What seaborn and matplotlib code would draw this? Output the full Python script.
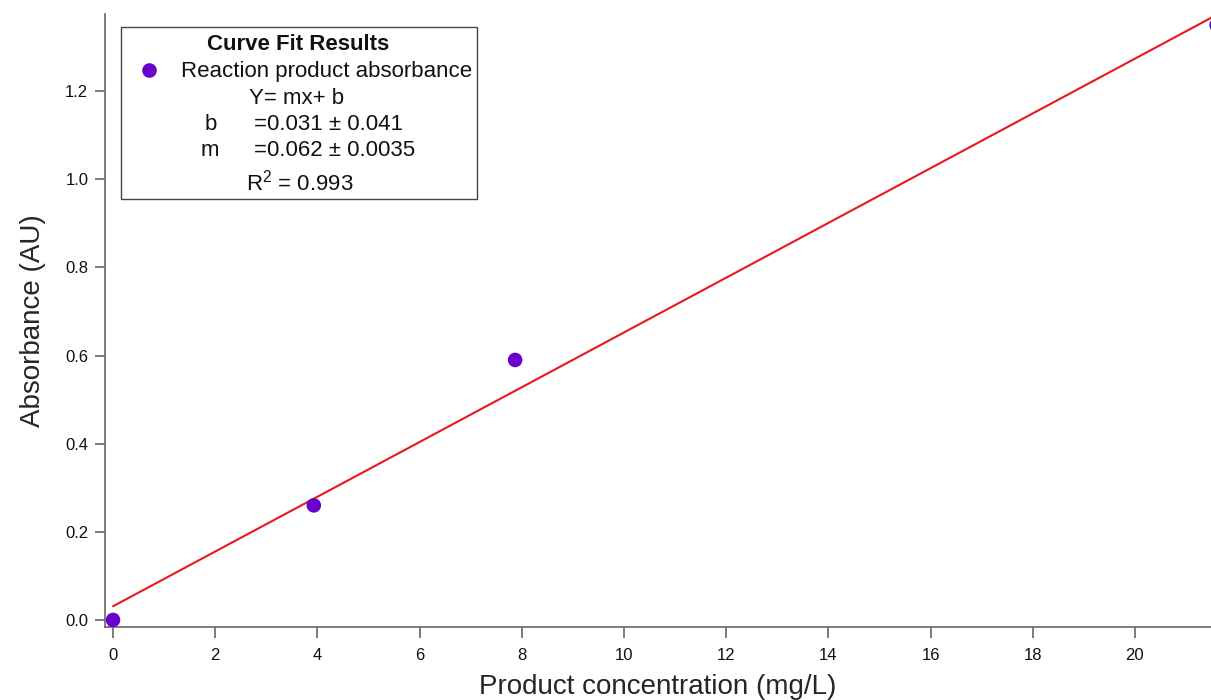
import matplotlib
matplotlib.use("Agg")
import matplotlib.pyplot as plt
import seaborn as sns
import pandas as pd
from matplotlib.patches import Rectangle

sns.set_theme(style="white")
plt.rcParams['font.family'] = ['Liberation Sans', 'DejaVu Sans']

# data
conc = [0.0, 3.93, 7.87, 21.6]
absorb = [0.0, 0.26, 0.59, 1.35]
fit_x = [0.0, 21.6]
fit_y = [0.031, 1.373]
x_ticks = [0, 2, 4, 6, 8, 10, 12, 14, 16, 18, 20]
y_ticks = [0.0, 0.2, 0.4, 0.6, 0.8, 1.0, 1.2]

W, H = 1211, 700
fig = plt.figure(figsize=(W / 100, H / 100), dpi=100)
L, R, T, B = 105, 1211, 14, 627
ax = fig.add_axes([L / W, 1 - B / H, (R - L) / W, (B - T) / H])

purple = "#6A00CC"
df = pd.DataFrame({"x": conc, "y": absorb})
fit = pd.DataFrame({"x": fit_x, "y": fit_y})
sns.lineplot(data=fit, x="x", y="y", ax=ax, color="#E8181B", linewidth=1.5)
sns.scatterplot(data=df, x="x", y="y", ax=ax, color=purple, s=110, edgecolor="none", zorder=3)

ax.set_xlim(-0.157, 21.49)
ax.set_ylim(-0.016, 1.375)
ax.set_xticks(x_ticks)
ax.set_yticks(y_ticks)
ax.set_yticklabels([f"{v:.1f}" for v in y_ticks])
ax.set_xlabel("Product concentration (mg/L)", fontsize=20, labelpad=8)
ax.set_ylabel("Absorbance (AU)", fontsize=20, labelpad=14)
for s in ["top", "right"]:
    ax.spines[s].set_visible(False)
for s in ["left", "bottom"]:
    ax.spines[s].set_color("#666666")
    ax.spines[s].set_linewidth(1.2)
ax.tick_params(axis="both", direction="out", length=7, width=1.2, color="#666666",
               labelsize=12, labelcolor="#111111", bottom=True, left=True)
ax.tick_params(axis="x", length=8, pad=7)
ax.tick_params(axis="y", pad=5)

# legend/annotation box
def fx(px):
    return px / W
def fy(py):
    return 1 - py / H

fig.patches.append(Rectangle((fx(121), fy(199)), fx(477) - fx(121), fy(27) - fy(199),
                             transform=fig.transFigure, fill=True, facecolor="white",
                             edgecolor="#444444", linewidth=1.0, zorder=5))
fs = 16
fig.text(fx(298), fy(45), "Curve Fit Results", ha="center", va="center",
         fontsize=fs, fontweight="bold", zorder=6, color="#111111")
fig.lines.append(plt.Line2D([fx(149)], [fy(70)], marker="o", markersize=10.5,
                            color=purple, markeredgewidth=0, linestyle="none",
                            transform=fig.transFigure, zorder=6))
fig.text(fx(181), fy(72), "Reaction product absorbance", ha="left", va="center",
         fontsize=fs, zorder=6, color="#111111")
fig.text(fx(297), fy(98), "Y= mx+ b", ha="center", va="center", fontsize=fs, zorder=6,
         color="#111111")
fig.text(fx(205), fy(124), "b", ha="left", va="center", fontsize=fs, zorder=6, color="#111111")
fig.text(fx(254), fy(124), "=0.031 ± 0.041", ha="left", va="center", fontsize=fs, zorder=6,
         color="#111111")
fig.text(fx(201), fy(150), "m", ha="left", va="center", fontsize=fs, zorder=6, color="#111111")
fig.text(fx(254), fy(150), "=0.062 ± 0.0035", ha="left", va="center", fontsize=fs, zorder=6,
         color="#111111")
fig.text(fx(246), fy(183), r"R$^\mathregular{2}$ = 0.993", ha="left", va="center",
         fontsize=fs, zorder=6, color="#111111")

fig.savefig("out.png", dpi=100)
